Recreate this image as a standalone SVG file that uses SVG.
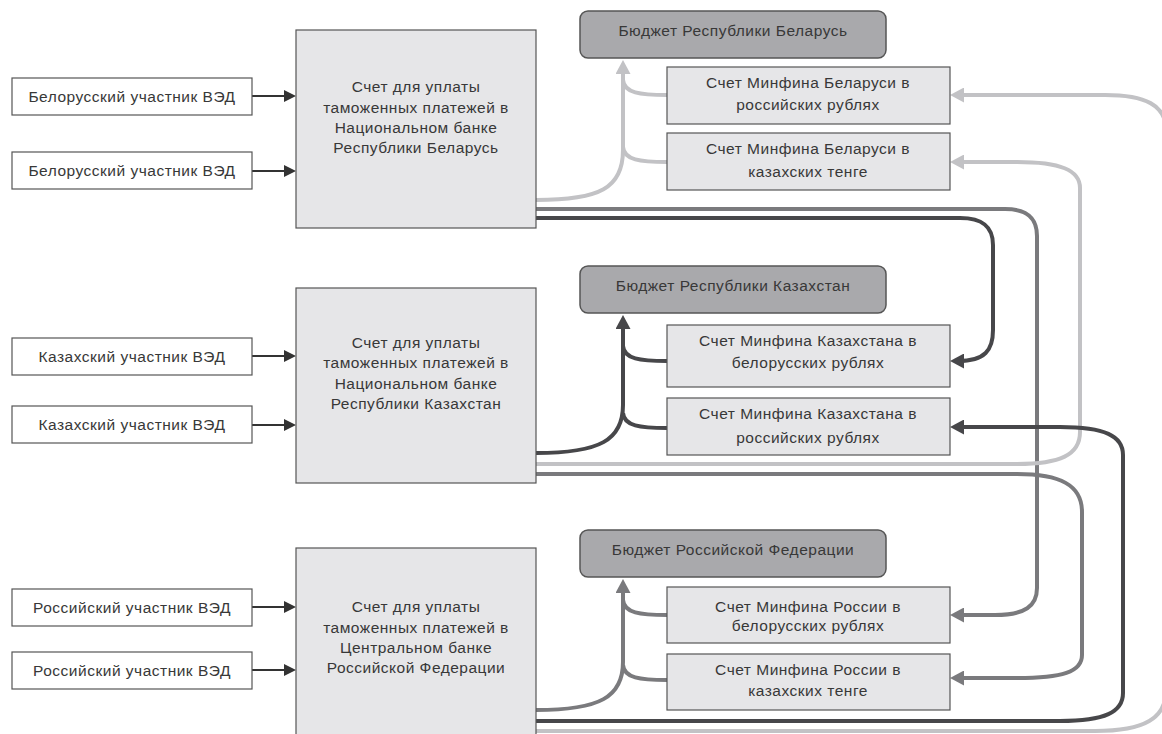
<svg xmlns="http://www.w3.org/2000/svg" width="1162" height="734" viewBox="0 0 1162 734">
<style>
text{font-family:"Liberation Sans",Arial,sans-serif;font-size:15.5px;letter-spacing:0.5px;fill:#383838;text-anchor:middle}
.part{fill:#fff;stroke:#555;stroke-width:1.2}
.bank{fill:#e6e6e8;stroke:#555;stroke-width:1.2}
.budget{fill:#a9a9ac;stroke:#555;stroke-width:1.5}
.acct{fill:#e6e6e8;stroke:#555;stroke-width:1.2}
.c{fill:none;stroke-width:4}
.lt{stroke:#c2c2c5}
.md{stroke:#7a7a7d}
.dk{stroke:#47474a}
.in{fill:none;stroke:#333;stroke-width:2}
</style>
<defs>
<marker id="mL" viewBox="0 0 14 15" refX="6" refY="7.5" markerWidth="14" markerHeight="15" markerUnits="userSpaceOnUse" orient="auto"><path d="M0,0 L14,7.5 L0,15 z" fill="#c2c2c5"/></marker>
<marker id="mM" viewBox="0 0 14 15" refX="6" refY="7.5" markerWidth="14" markerHeight="15" markerUnits="userSpaceOnUse" orient="auto"><path d="M0,0 L14,7.5 L0,15 z" fill="#7a7a7d"/></marker>
<marker id="mD" viewBox="0 0 14 15" refX="6" refY="7.5" markerWidth="14" markerHeight="15" markerUnits="userSpaceOnUse" orient="auto"><path d="M0,0 L14,7.5 L0,15 z" fill="#47474a"/></marker>
<marker id="mI" viewBox="0 0 12 12" refX="4" refY="6" markerWidth="12" markerHeight="12" markerUnits="userSpaceOnUse" orient="auto"><path d="M0,0 L12,6 L0,12 z" fill="#333"/></marker>
</defs>

<g id="connectors">
<path class="in" d="M252,96 L288,96" marker-end="url(#mI)"/>
<path class="in" d="M252,171 L288,171" marker-end="url(#mI)"/>
<path class="in" d="M252,356 L288,356" marker-end="url(#mI)"/>
<path class="in" d="M252,425 L288,425" marker-end="url(#mI)"/>
<path class="in" d="M252,607 L288,607" marker-end="url(#mI)"/>
<path class="in" d="M252,670 L288,670" marker-end="url(#mI)"/>

<path class="c lt" d="M536,200 C600,200 623,188 623,150 L623,68" marker-end="url(#mL)"/>
<path class="c lt" d="M667,95 C640,95 624,93 623,80"/>
<path class="c lt" d="M667,162 C640,162 624,160 623,147"/>

<path class="c dk" d="M536,453 C600,453 623,440 623,405 L623,323" marker-end="url(#mD)"/>
<path class="c dk" d="M667,361 C640,361 624,359 623,346"/>
<path class="c dk" d="M667,428 C640,428 624,426 623,413"/>

<path class="c md" d="M536,710 C600,710 623,697 623,662 L623,587" marker-end="url(#mM)"/>
<path class="c md" d="M667,615 C640,615 624,613 623,600"/>
<path class="c md" d="M667,680 C640,680 624,678 623,665"/>

<path class="c dk" d="M536,218 L960,218 C982,218 993,226 993,245 L993,330 C993,350 985,361 958,361" marker-end="url(#mD)"/>
<path class="c md" d="M536,209 L1005,209 C1027,209 1037,218 1037,236 L1037,588 C1037,606 1025,615 995,615 L958,615" marker-end="url(#mM)"/>
<path class="c lt" d="M536,464 L1017,464 C1060,464 1080,455 1080,432 L1080,188 C1080,170 1060,162 1017,162 L958,162" marker-end="url(#mL)"/>
<path class="c md" d="M536,474 L1017,474 C1060,474 1082,485 1082,512 L1082,655 C1082,672 1062,678 1017,678 L958,678" marker-end="url(#mM)"/>
<path class="c dk" d="M536,721 L1060,721 C1105,721 1123,712 1123,693 L1123,455 C1123,436 1105,427 1060,427 L958,427" marker-end="url(#mD)"/>
<path class="c lt" d="M536,731 L1095,731 C1145,731 1166,718 1166,690 L1166,130 C1166,105 1145,95 1105,95 L958,95" marker-end="url(#mL)"/>
</g>

<g id="by-part-1"><rect class="part" x="12" y="78" width="240" height="37"/><text x="132" y="102">Белорусский участник ВЭД</text></g>
<g id="by-part-2"><rect class="part" x="12" y="152" width="240" height="37"/><text x="132" y="176">Белорусский участник ВЭД</text></g>
<g id="kz-part-1"><rect class="part" x="12" y="338" width="240" height="37"/><text x="132" y="362">Казахский участник ВЭД</text></g>
<g id="kz-part-2"><rect class="part" x="12" y="406" width="240" height="37"/><text x="132" y="430">Казахский участник ВЭД</text></g>
<g id="ru-part-1"><rect class="part" x="12" y="589" width="240" height="37"/><text x="132" y="613">Российский участник ВЭД</text></g>
<g id="ru-part-2"><rect class="part" x="12" y="652" width="240" height="37"/><text x="132" y="676">Российский участник ВЭД</text></g>

<g id="by-bank"><rect class="bank" x="296" y="30" width="240" height="198"/>
<text x="416" y="92">Счет для уплаты</text><text x="416" y="113">таможенных платежей в</text><text x="416" y="133">Национальном банке</text><text x="416" y="153">Республики Беларусь</text></g>
<g id="kz-bank"><rect class="bank" x="296" y="288" width="240" height="195"/>
<text x="416" y="348">Счет для уплаты</text><text x="416" y="368">таможенных платежей в</text><text x="416" y="389">Национальном банке</text><text x="416" y="409">Республики Казахстан</text></g>
<g id="ru-bank"><rect class="bank" x="296" y="548" width="240" height="192"/>
<text x="416" y="612">Счет для уплаты</text><text x="416" y="633">таможенных платежей в</text><text x="416" y="653">Центральном банке</text><text x="416" y="673">Российской Федерации</text></g>

<g id="by-budget"><rect class="budget" x="580" y="11" width="306" height="47" rx="8"/><text x="733" y="36">Бюджет Республики Беларусь</text></g>
<g id="kz-budget"><rect class="budget" x="580" y="266" width="306" height="47" rx="8"/><text x="733" y="291">Бюджет Республики Казахстан</text></g>
<g id="ru-budget"><rect class="budget" x="580" y="530" width="306" height="47" rx="8"/><text x="733" y="555">Бюджет Российской Федерации</text></g>

<g id="by-acc-rub"><rect class="acct" x="667" y="67" width="283" height="57"/><text x="808" y="88">Счет Минфина Беларуси в</text><text x="808" y="110">российских рублях</text></g>
<g id="by-acc-kzt"><rect class="acct" x="667" y="133" width="283" height="57"/><text x="808" y="154">Счет Минфина Беларуси в</text><text x="808" y="177">казахских тенге</text></g>
<g id="kz-acc-byr"><rect class="acct" x="667" y="325" width="283" height="62"/><text x="808" y="346">Счет Минфина Казахстана в</text><text x="808" y="368">белорусских рублях</text></g>
<g id="kz-acc-rub"><rect class="acct" x="667" y="398" width="283" height="57"/><text x="808" y="419">Счет Минфина Казахстана в</text><text x="808" y="443">российских рублях</text></g>
<g id="ru-acc-byr"><rect class="acct" x="667" y="587" width="283" height="56"/><text x="808" y="612">Счет Минфина России в</text><text x="808" y="631">белорусских рублях</text></g>
<g id="ru-acc-kzt"><rect class="acct" x="667" y="654" width="283" height="56"/><text x="808" y="675">Счет Минфина России в</text><text x="808" y="696">казахских тенге</text></g>
</svg>
